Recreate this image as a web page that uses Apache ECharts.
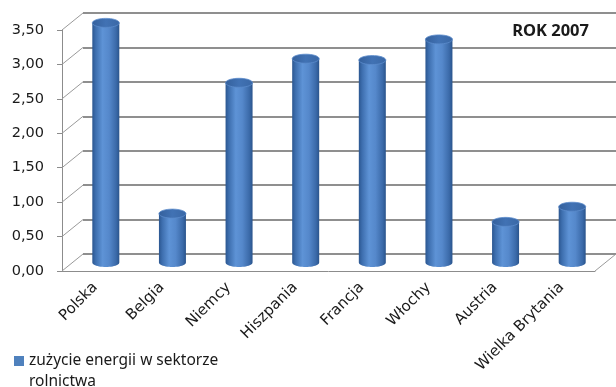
<!DOCTYPE html>
<html>
<head>
<meta charset="utf-8">
<style>
  html, body { margin: 0; padding: 0; background: #ffffff; }
  #chart { width: 616px; height: 387px; }
</style>
<script src="https://cdn.jsdelivr.net/npm/echarts@6/dist/echarts.min.js"></script>
</head>
<body>
<div id="chart"></div>
<script>
// Energy use in the agricultural sector, 2007
const countries = ['Polska', 'Belgia', 'Niemcy', 'Hiszpania', 'Francja', 'Włochy', 'Austria', 'Wielka Brytania'];
const energyUse = [3.48, 0.71, 2.61, 2.96, 2.94, 3.24, 0.59, 0.81];
const yTicks = [0, 0.5, 1, 1.5, 2, 2.5, 3, 3.5];
const seriesName = 'zużycie energii w sektorze rolnictwa';
const titleText = 'ROK 2007';

// oblique depth of the pseudo-3D box (pixels)
const DEPTH_X = 21;
const DEPTH_Y = 17;
const AXIS_FONT = 'DejaVu Sans';
const TEXT_FONT = 'Noto Sans';

const fmt = v => v.toFixed(2).replace('.', ',');

function ellipsePoints(cx, cy, rx, ry, a0, a1, n) {
  const pts = [];
  for (let k = 0; k <= n; k++) {
    const t = a0 + (a1 - a0) * k / n;
    pts.push([cx + rx * Math.cos(t), cy + ry * Math.sin(t)]);
  }
  return pts;
}

// cylinder bar standing halfway into the depth of the box
function renderCylinder(params, api) {
  const i = api.value(0);
  const v = api.value(1);
  const base = api.coord([i, 0]);
  const top = api.coord([i, v]);
  const cx = base[0] + DEPTH_X / 2;
  const by = base[1] - DEPTH_Y / 2;
  const ty = top[1] - DEPTH_Y / 2;
  const rx = 13.5, ry = 4.5;
  const body = [[cx - rx, ty]].concat(
    ellipsePoints(cx, by, rx, ry, Math.PI, 0, 24)
  );
  body.push([cx + rx, ty]);
  const cap = ellipsePoints(cx, ty, rx, ry, 0, Math.PI * 2, 36);
  const bodyFill = new echarts.graphic.LinearGradient(0, 0, 1, 0, [
    { offset: 0, color: '#2b5690' },
    { offset: 0.12, color: '#3d6eae' },
    { offset: 0.38, color: '#5e93d6' },
    { offset: 0.62, color: '#5588cb' },
    { offset: 0.88, color: '#3b6aa9' },
    { offset: 1, color: '#2a548c' }
  ]);
  const capFill = new echarts.graphic.LinearGradient(0, 0, 1, 0, [
    { offset: 0, color: '#34609c' },
    { offset: 0.5, color: '#4172b4' },
    { offset: 1, color: '#3a68a6' }
  ]);
  return {
    type: 'group',
    children: [
      { type: 'polygon', shape: { points: body }, style: { fill: bodyFill } },
      { type: 'polygon', shape: { points: cap }, style: { fill: capFill, stroke: '#5c8ccc', lineWidth: 0.8 } }
    ]
  };
}

// diagonal links from the front axis ticks to the back wall, plus the floor edge
function renderDepthLines(params, api) {
  const v = api.value(1);
  const cs = params.coordSys;
  const y = api.coord([0, v])[1];
  const children = [{
    type: 'line',
    shape: { x1: cs.x, y1: y, x2: cs.x + DEPTH_X, y2: y - DEPTH_Y },
    style: { stroke: '#9a9a9a', lineWidth: 1 }
  }];
  if (v === 0) {
    children.push({
      type: 'line',
      shape: { x1: cs.x + cs.width, y1: y, x2: cs.x + cs.width + DEPTH_X, y2: y - DEPTH_Y },
      style: { stroke: '#9a9a9a', lineWidth: 1 }
    });
  }
  return { type: 'group', children };
}

const chart = echarts.init(document.getElementById('chart'), null, { renderer: 'canvas' });

chart.setOption({
  animation: false,
  backgroundColor: '#ffffff',
  title: {
    text: titleText,
    right: 27,
    top: 23,
    padding: 0,
    textStyle: { fontFamily: TEXT_FONT, fontSize: 16.5, fontWeight: 'bold', color: '#1a1a1a' }
  },
  legend: {
    left: 14,
    top: 350,
    padding: 0,
    itemWidth: 10,
    itemHeight: 30,
    icon: 'path://M0,0h10v10h-10z M0,30h0.01',
    data: [seriesName],
    formatter: () => 'zużycie energii w sektorze\nrolnictwa',
    textStyle: { fontFamily: TEXT_FONT, fontSize: 15.5, color: '#1a1a1a', lineHeight: 21 }
  },
  grid: [
    { left: 62, right: 21, top: 30, bottom: 116 },
    { left: 62 + DEPTH_X, right: 21 - DEPTH_X, top: 30 - DEPTH_Y, bottom: 116 + DEPTH_Y }
  ],
  xAxis: [
    {
      type: 'category',
      gridIndex: 0,
      data: countries,
      axisLine: { lineStyle: { color: '#8c8c8c', width: 1 } },
      axisTick: { length: 6, lineStyle: { color: '#8c8c8c' } },
      axisLabel: {
        rotate: 45,
        margin: 14,
        interval: 0,
        fontFamily: AXIS_FONT,
        fontSize: 15,
        color: '#1a1a1a'
      }
    },
    {
      type: 'category',
      gridIndex: 1,
      data: countries,
      show: false
    }
  ],
  yAxis: [
    {
      type: 'value',
      gridIndex: 0,
      min: yTicks[0],
      max: yTicks[yTicks.length - 1],
      interval: 0.5,
      axisLine: { show: true, lineStyle: { color: '#8c8c8c', width: 1 } },
      axisTick: { show: true, length: 5, lineStyle: { color: '#8c8c8c' } },
      splitLine: { show: false },
      axisLabel: {
        margin: 18,
        fontFamily: AXIS_FONT,
        fontSize: 14.5,
        color: '#1a1a1a',
        formatter: fmt
      }
    },
    {
      type: 'value',
      gridIndex: 1,
      min: yTicks[0],
      max: yTicks[yTicks.length - 1],
      interval: 0.5,
      axisLine: { show: false },
      axisTick: { show: false },
      axisLabel: { show: false },
      splitLine: { show: true, lineStyle: { color: '#8f8f8f', width: 2 } }
    }
  ],
  series: [
    {
      type: 'custom',
      name: '_depth',
      xAxisIndex: 0,
      yAxisIndex: 0,
      silent: true,
      z: 1,
      data: yTicks.map(v => [0, v]),
      renderItem: renderDepthLines
    },
    {
      type: 'custom',
      name: seriesName,
      xAxisIndex: 0,
      yAxisIndex: 0,
      z: 3,
      itemStyle: { color: '#4f81bd' },
      encode: { x: 0, y: 1 },
      data: energyUse.map((v, i) => [i, v]),
      renderItem: renderCylinder
    }
  ]
});
</script>
</body>
</html>
